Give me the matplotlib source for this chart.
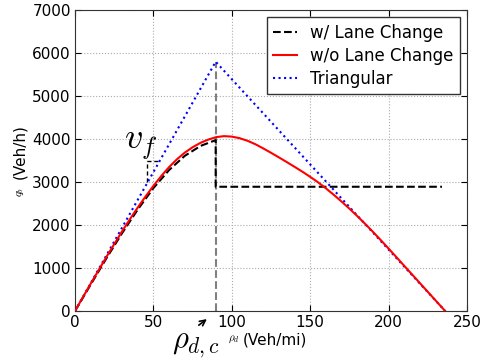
import numpy as np
import matplotlib
matplotlib.use("Agg")
import matplotlib.pyplot as plt

plt.rcParams['mathtext.fontset'] = 'cm'

# density (Veh/mi) and flow (Veh/h)
rho_red = [0, 5, 10, 15, 20, 25, 30, 35, 40, 45, 50, 55, 60, 65, 70, 75, 80, 85, 90,
           95, 100, 105, 110, 115, 120, 125, 130, 135, 140, 145, 150, 155, 160, 165,
           170, 175, 180, 185, 190, 195, 200, 205, 210, 220, 230, 236]
q_red = [0, 320, 635, 947, 1256, 1556, 1852, 2135, 2408, 2665, 2911, 3140, 3349, 3530,
         3685, 3810, 3912, 3988, 4045, 4068, 4057, 4020, 3960, 3880, 3783, 3680, 3574,
         3465, 3354, 3240, 3120, 2993, 2853, 2703, 2545, 2380, 2207, 2027, 1840, 1648,
         1450, 1250, 1048, 645, 242, 0]

rho_lc = [0, 10, 20, 30, 40, 50, 60, 70, 80, 89.7, 89.7, 234]
q_lc = [0, 615, 1225, 1810, 2360, 2860, 3280, 3610, 3840, 3975, 2890, 2890]

rho_tri = [0, 89.7, 236]
q_tri = [0, 5800, 0]

rho_crit = 89.7
q_crit = 5800
vf_x = [46, 46, 54]
vf_y = [3000, 3500, 3500]

fig = plt.figure(figsize=(4.81, 3.62), dpi=100)
ax = fig.add_axes([0.156, 0.141, 0.815, 0.831])

ax.plot([rho_crit, rho_crit], [0, q_crit], '--', color='gray', lw=1.5, zorder=2)
ax.plot(rho_lc, q_lc, 'k--', lw=1.5, label='w/ Lane Change', zorder=3)
ax.plot(rho_red, q_red, '-', color='red', lw=1.5, label='w/o Lane Change', zorder=4)
ax.plot(rho_tri, q_tri, ':', color='blue', lw=1.5, label='Triangular', zorder=3)
ax.plot(vf_x, vf_y, 'k--', lw=1.0, dashes=(3, 2))

ax.set_xlim(0, 250)
ax.set_ylim(0, 7000)
ax.set_xticks([0, 50, 100, 150, 200, 250])
ax.set_yticks(np.arange(0, 7001, 1000))
ax.tick_params(direction='in', top=True, right=True, length=4, labelsize=11, pad=3)
ax.grid(True, ls=':', color='#aaaaaa', lw=0.8)
for s in ax.spines.values():
    s.set_color('#333333')

leg = ax.legend(loc='upper right', fontsize=12, fancybox=False, framealpha=1,
                edgecolor='#333333', handlelength=1.4, handletextpad=0.8,
                labelspacing=0.3, borderpad=0.4, borderaxespad=0.42)
leg.get_frame().set_linewidth(1.0)

# annotations
ax.text(31, 3780, r'$v_f$', fontsize=26, ha='left', va='baseline')
ax.text(62, -860, r'$\rho_{d,c}$', fontsize=22, ha='left', va='baseline',
        clip_on=False)
ax.annotate('', xy=(85.5, -150), xytext=(77.5, -370), xycoords='data',
            arrowprops=dict(arrowstyle='->', color='k', lw=1.2),
            annotation_clip=False)

# axis labels (small math symbol + units)
ax.text(0.39, -0.096, r'$\rho_d$', transform=ax.transAxes, fontsize=8,
        ha='left', va='center')
ax.text(0.429, -0.096, '(Veh/mi)', transform=ax.transAxes, fontsize=11,
        ha='left', va='center')
ax.text(-0.14, 0.395, r'$q_b$', transform=ax.transAxes, fontsize=8,
        ha='center', va='center', rotation=90)
ax.text(-0.14, 0.53, '(Veh/h)', transform=ax.transAxes, fontsize=11,
        ha='center', va='center', rotation=90)

fig.savefig('out.png', dpi=100)
